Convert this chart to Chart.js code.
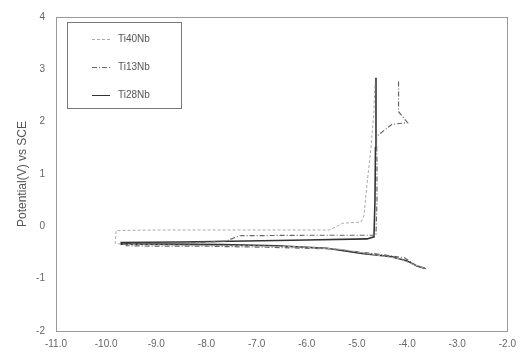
<!DOCTYPE html>
<html>
<head>
<meta charset="utf-8">
<script src="https://cdn.jsdelivr.net/npm/chart.js@4/dist/chart.umd.min.js"></script>
<style>
html,body{margin:0;padding:0;background:#fff;}
#wrap{width:523px;height:354px;}
</style>
</head>
<body>
<div id="wrap"><canvas id="polChart"></canvas></div>
<script>
// POLARIZATION CURVES

const seriesNames = ["Ti40Nb", "Ti13Nb", "Ti28Nb"];

// log current density (x) and potential (y) for each alloy
const logI1 = [-3.68, -3.9, -4.15, -4.6, -5.3, -6.2, -7.4, -8.6, -9.5, -9.82, -9.8, -9.0, -7.8, -6.5, -5.55, -5.28, -4.92, -4.86, -4.8, -4.72, -4.66, -4.64];
const pot1 = [-0.79, -0.72, -0.62, -0.55, -0.44, -0.39, -0.37, -0.36, -0.35, -0.33, -0.08, -0.07, -0.07, -0.07, -0.07, 0.06, 0.08, 0.2, 0.8, 1.5, 2.2, 2.75];

const logI2 = [-3.62, -3.82, -4.05, -4.5, -5.5, -6.8, -8.0, -9.0, -9.6, -9.6, -8.2, -7.6, -7.35, -6.0, -4.62, -4.6, -4.6, -4.61, -4.3, -3.99, -4.17, -4.17];
const pot2 = [-0.81, -0.75, -0.6, -0.54, -0.43, -0.4, -0.38, -0.38, -0.37, -0.33, -0.31, -0.28, -0.18, -0.17, -0.17, 0.5, 1.2, 1.72, 1.95, 1.98, 2.19, 2.79];

const logI3 = [-3.65, -3.8, -4.0, -4.3, -4.9, -5.6, -6.6, -7.7, -8.8, -9.7, -9.7, -8.5, -7.2, -6.0, -4.8, -4.66, -4.64, -4.63, -4.62, -4.62];
const pot3 = [-0.8, -0.76, -0.66, -0.58, -0.52, -0.42, -0.37, -0.35, -0.34, -0.34, -0.31, -0.3, -0.28, -0.26, -0.24, -0.2, 0.5, 1.5, 2.3, 2.84];

const xTicks = [-11, -10, -9, -8, -7, -6, -5, -4, -3, -2];
const yTicks = [4, 3, 2, 1, 0, -1, -2];

const FONT = "Arial, 'Liberation Sans', sans-serif";

function toPoints(xs, ys){
  return xs.map((x, i) => ({x: x, y: ys[i]}));
}

// legend drawn inside the plot, boxed
const boxLegend = {
  id: "boxLegend",
  afterDraw(chart){
    const ctx = chart.ctx;
    ctx.save();
    ctx.strokeStyle = "#777";
    ctx.lineWidth = 1;
    ctx.strokeRect(67.5, 22.5, 114, 86);
    ctx.font = "10px " + FONT;
    ctx.textBaseline = "middle";
    const rows = [39, 67, 95];
    chart.data.datasets.forEach((ds, i) => {
      ctx.strokeStyle = ds.borderColor;
      ctx.setLineDash(ds.borderDash || []);
      ctx.beginPath();
      ctx.moveTo(92, rows[i] + 0.5);
      ctx.lineTo(110, rows[i] + 0.5);
      ctx.stroke();
      ctx.setLineDash([]);
      ctx.fillStyle = "#555";
      ctx.fillText(ds.label, 118, rows[i]);
    });
    ctx.restore();
  }
};

// plot frame
const frame = {
  id: "frame",
  afterDraw(chart){
    const a = chart.chartArea;
    const ctx = chart.ctx;
    ctx.save();
    ctx.strokeStyle = "#999";
    ctx.lineWidth = 1;
    ctx.strokeRect(Math.round(a.left) + 0.5, Math.round(a.top) + 0.5, Math.round(a.right - a.left), Math.round(a.bottom - a.top));
    ctx.restore();
  }
};

const polChart = document.getElementById("polChart");

new Chart(polChart, {
  type: "scatter",
  data: {
    datasets: [{
      label: seriesNames[0],
      data: toPoints(logI1, pot1),
      showLine: true,
      borderColor: "#aaa",
      borderWidth: 1,
      borderDash: [3, 2],
      pointRadius: 0
    }, {
      label: seriesNames[1],
      data: toPoints(logI2, pot2),
      showLine: true,
      borderColor: "#666",
      borderWidth: 1.2,
      borderDash: [5, 2, 1, 2],
      pointRadius: 0
    }, {
      label: seriesNames[2],
      data: toPoints(logI3, pot3),
      showLine: true,
      borderColor: "#333",
      borderWidth: 1.6,
      pointRadius: 0
    }]
  },
  options: {
    responsive: true,
    maintainAspectRatio: false,
    animation: false,
    layout: {
      padding: {top: 10, right: 10, left: 0, bottom: 0}
    },
    plugins: {
      legend: {display: false},
      tooltip: {enabled: false}
    },
    scales: {
      x: {
        type: "linear",
        min: -11,
        max: -2,
        afterFit(axis){ axis.height = 23; },
        afterBuildTicks(axis){ axis.ticks = xTicks.map(v => ({value: v})); },
        grid: {display: false, drawTicks: false},
        border: {display: false},
        ticks: {
          padding: 7,
          color: "#666",
          font: {size: 10, family: FONT},
          callback: v => v.toFixed(1)
        }
      },
      y: {
        type: "linear",
        min: -2,
        max: 4,
        afterFit(axis){ axis.width = 56; },
        afterBuildTicks(axis){ axis.ticks = yTicks.map(v => ({value: v})); },
        grid: {display: false, drawTicks: false},
        border: {display: false},
        title: {
          display: true,
          text: "Potential(V) vs SCE",
          color: "#555",
          font: {size: 12, family: FONT},
          padding: {top: 15, bottom: 0}
        },
        ticks: {
          padding: 11,
          color: "#666",
          font: {size: 10, family: FONT},
          callback: v => String(v)
        }
      }
    }
  },
  plugins: [frame, boxLegend]
});
</script>
</body>
</html>
